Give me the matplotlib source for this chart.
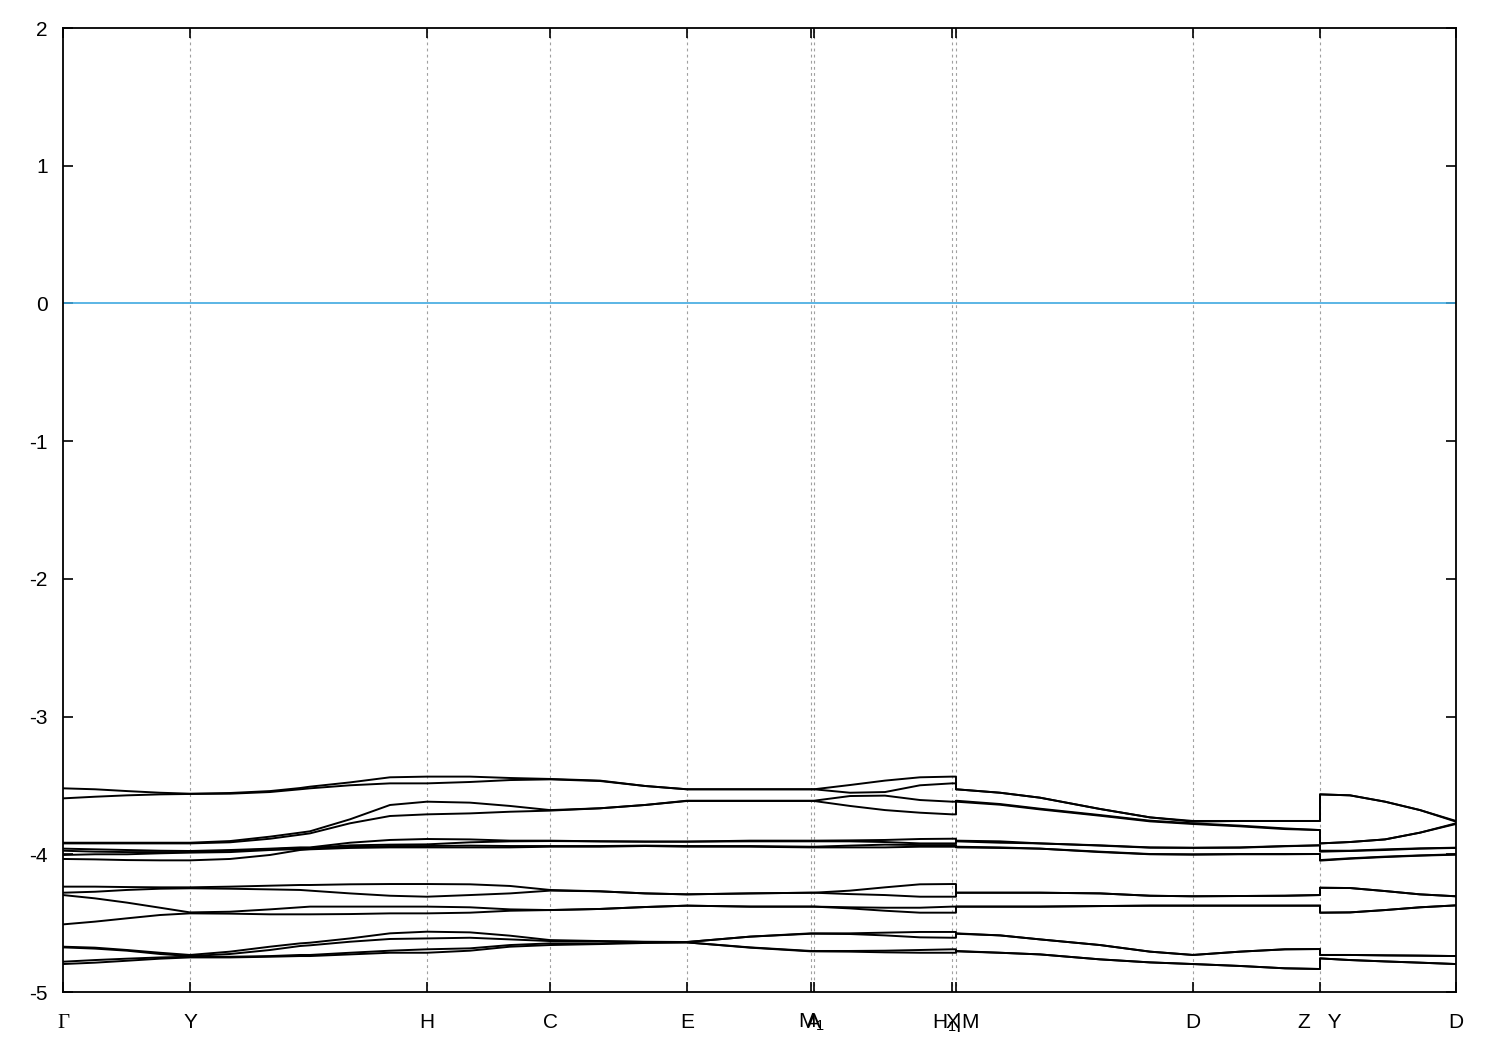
import matplotlib
matplotlib.use('Agg')
import matplotlib.pyplot as plt
from matplotlib.transforms import blended_transform_factory

plt.rcParams['font.family'] = ['Liberation Sans', 'DejaVu Sans']
plt.rcParams['mathtext.fontset'] = 'custom'
plt.rcParams['mathtext.rm'] = 'Liberation Sans'
plt.rcParams['mathtext.it'] = 'Liberation Sans'

# k-path positions (arbitrary path-length units)
k = [0.000, 0.032, 0.064, 0.097, 0.127, 0.167, 0.207, 0.237, 0.247, 0.287,
     0.327, 0.364, 0.407, 0.447, 0.487, 0.537, 0.582, 0.624, 0.687, 0.748,
     0.751, 0.787, 0.822, 0.857, 0.889, 0.893, 0.893, 0.937, 0.977, 1.037,
     1.087, 1.130, 1.177, 1.222, 1.257, 1.257, 1.287, 1.322, 1.357, 1.393]

tick_k = [0.000, 0.127, 0.364, 0.487, 0.624, 0.748, 0.751, 0.889, 0.893, 1.130, 1.257, 1.393]
tick_labels = ['Γ', 'Y', 'H', 'C', 'E', 'M$_1$', 'A', 'X', 'H$_1$|M', 'D', 'Z   Y', 'D']

# band energies (eV), sorted from top to bottom
band_a1 = [-3.521, -3.528, -3.541, -3.553, -3.560, -3.555, -3.541, -3.519, -3.509, -3.478,
           -3.441, -3.436, -3.436, -3.446, -3.453, -3.465, -3.504, -3.528, -3.528, -3.528,
           -3.528, -3.497, -3.465, -3.441, -3.436, -3.436, -3.528, -3.553, -3.589, -3.671,
           -3.732, -3.758, -3.758, -3.758, -3.758, -3.565, -3.572, -3.618, -3.679, -3.758]
band_a2 = [-3.594, -3.582, -3.572, -3.565, -3.562, -3.560, -3.548, -3.528, -3.521, -3.499,
           -3.485, -3.485, -3.475, -3.461, -3.456, -3.468, -3.504, -3.528, -3.528, -3.528,
           -3.528, -3.553, -3.548, -3.499, -3.485, -3.485, -3.528, -3.553, -3.589, -3.671,
           -3.732, -3.763, -3.758, -3.758, -3.758, -3.565, -3.572, -3.618, -3.679, -3.763]
band_a3 = [-3.916, -3.916, -3.916, -3.916, -3.916, -3.904, -3.872, -3.843, -3.833, -3.746,
           -3.642, -3.618, -3.625, -3.649, -3.679, -3.666, -3.642, -3.611, -3.611, -3.611,
           -3.611, -3.577, -3.574, -3.606, -3.618, -3.618, -3.611, -3.635, -3.669, -3.715,
           -3.756, -3.775, -3.792, -3.812, -3.824, -3.921, -3.911, -3.892, -3.843, -3.775]
band_a4 = [-3.921, -3.921, -3.921, -3.921, -3.921, -3.913, -3.887, -3.858, -3.848, -3.775,
           -3.722, -3.710, -3.703, -3.691, -3.683, -3.666, -3.642, -3.613, -3.613, -3.613,
           -3.613, -3.649, -3.679, -3.698, -3.710, -3.710, -3.618, -3.640, -3.674, -3.720,
           -3.761, -3.780, -3.797, -3.817, -3.824, -3.921, -3.911, -3.892, -3.843, -3.780]
band_b1 = [-3.959, -3.964, -3.969, -3.974, -3.976, -3.969, -3.959, -3.950, -3.950, -3.916,
           -3.896, -3.889, -3.892, -3.901, -3.901, -3.906, -3.908, -3.908, -3.901, -3.901,
           -3.901, -3.899, -3.896, -3.889, -3.887, -3.887, -3.901, -3.906, -3.921, -3.935,
           -3.950, -3.952, -3.950, -3.940, -3.935, -3.974, -3.974, -3.964, -3.957, -3.952]
band_b2 = [-3.974, -3.981, -3.984, -3.984, -3.984, -3.974, -3.964, -3.954, -3.954, -3.935,
           -3.930, -3.928, -3.913, -3.906, -3.904, -3.906, -3.908, -3.908, -3.906, -3.906,
           -3.906, -3.906, -3.911, -3.921, -3.921, -3.921, -3.906, -3.916, -3.921, -3.937,
           -3.952, -3.954, -3.952, -3.942, -3.935, -3.981, -3.976, -3.969, -3.959, -3.954]
band_b3 = [-4.005, -4.000, -4.000, -3.993, -3.988, -3.984, -3.969, -3.962, -3.959, -3.945,
           -3.940, -3.940, -3.937, -3.940, -3.940, -3.940, -3.937, -3.940, -3.940, -3.945,
           -3.945, -3.937, -3.930, -3.933, -3.933, -3.933, -3.945, -3.950, -3.959, -3.981,
           -3.998, -4.000, -3.998, -3.998, -3.998, -4.042, -4.029, -4.017, -4.008, -4.000]
band_b4 = [-4.034, -4.037, -4.042, -4.044, -4.044, -4.034, -4.005, -3.969, -3.964, -3.954,
           -3.950, -3.950, -3.950, -3.950, -3.945, -3.945, -3.940, -3.945, -3.945, -3.950,
           -3.950, -3.950, -3.950, -3.945, -3.945, -3.945, -3.950, -3.954, -3.959, -3.984,
           -4.000, -4.003, -4.000, -4.000, -3.998, -4.046, -4.032, -4.020, -4.010, -4.003]
band_c1 = [-4.235, -4.235, -4.238, -4.240, -4.240, -4.235, -4.228, -4.223, -4.223, -4.218,
           -4.216, -4.216, -4.218, -4.230, -4.259, -4.269, -4.284, -4.291, -4.284, -4.279,
           -4.279, -4.264, -4.240, -4.218, -4.216, -4.216, -4.279, -4.279, -4.279, -4.284,
           -4.301, -4.305, -4.303, -4.301, -4.296, -4.243, -4.245, -4.267, -4.291, -4.305]
band_c2 = [-4.279, -4.272, -4.259, -4.250, -4.247, -4.250, -4.255, -4.259, -4.264, -4.284,
           -4.301, -4.308, -4.296, -4.284, -4.264, -4.269, -4.284, -4.291, -4.284, -4.279,
           -4.279, -4.289, -4.296, -4.308, -4.308, -4.308, -4.279, -4.279, -4.279, -4.284,
           -4.301, -4.305, -4.303, -4.301, -4.296, -4.243, -4.245, -4.267, -4.291, -4.305]
band_c3 = [-4.296, -4.320, -4.351, -4.388, -4.422, -4.417, -4.400, -4.385, -4.380, -4.380,
           -4.380, -4.380, -4.385, -4.400, -4.405, -4.397, -4.383, -4.373, -4.380, -4.380,
           -4.380, -4.385, -4.388, -4.388, -4.380, -4.380, -4.380, -4.380, -4.380, -4.376,
           -4.373, -4.373, -4.373, -4.373, -4.373, -4.424, -4.422, -4.405, -4.385, -4.371]
band_c4 = [-4.509, -4.489, -4.465, -4.441, -4.429, -4.431, -4.436, -4.436, -4.436, -4.434,
           -4.429, -4.429, -4.424, -4.410, -4.405, -4.397, -4.383, -4.373, -4.380, -4.380,
           -4.380, -4.393, -4.410, -4.424, -4.424, -4.424, -4.380, -4.380, -4.380, -4.376,
           -4.373, -4.373, -4.373, -4.373, -4.373, -4.424, -4.422, -4.405, -4.385, -4.371]
band_d1 = [-4.671, -4.678, -4.695, -4.715, -4.731, -4.707, -4.671, -4.647, -4.642, -4.611,
           -4.574, -4.562, -4.567, -4.591, -4.623, -4.630, -4.635, -4.637, -4.598, -4.574,
           -4.574, -4.574, -4.569, -4.564, -4.564, -4.564, -4.574, -4.589, -4.618, -4.659,
           -4.707, -4.731, -4.707, -4.690, -4.688, -4.731, -4.731, -4.734, -4.736, -4.739]
band_d2 = [-4.676, -4.685, -4.700, -4.724, -4.739, -4.724, -4.695, -4.666, -4.661, -4.635,
           -4.615, -4.611, -4.606, -4.618, -4.630, -4.632, -4.637, -4.637, -4.598, -4.577,
           -4.577, -4.579, -4.589, -4.603, -4.606, -4.606, -4.577, -4.589, -4.618, -4.659,
           -4.707, -4.731, -4.707, -4.690, -4.688, -4.731, -4.731, -4.734, -4.736, -4.739]
band_d3 = [-4.780, -4.768, -4.758, -4.749, -4.744, -4.744, -4.739, -4.731, -4.731, -4.715,
           -4.700, -4.690, -4.683, -4.659, -4.647, -4.647, -4.640, -4.640, -4.676, -4.702,
           -4.702, -4.702, -4.700, -4.695, -4.690, -4.690, -4.702, -4.715, -4.727, -4.763,
           -4.785, -4.797, -4.811, -4.828, -4.833, -4.756, -4.768, -4.778, -4.787, -4.797]
band_d4 = [-4.797, -4.787, -4.773, -4.758, -4.749, -4.749, -4.744, -4.739, -4.739, -4.727,
           -4.715, -4.715, -4.700, -4.671, -4.659, -4.652, -4.644, -4.640, -4.678, -4.705,
           -4.705, -4.707, -4.712, -4.715, -4.715, -4.715, -4.705, -4.715, -4.727, -4.763,
           -4.785, -4.797, -4.811, -4.828, -4.833, -4.756, -4.768, -4.778, -4.787, -4.797]

bands = [band_a1, band_a2, band_a3, band_a4, band_b1, band_b2, band_b3, band_b4,
         band_c1, band_c2, band_c3, band_c4, band_d1, band_d2, band_d3, band_d4]

y_ticks = [-5, -4, -3, -2, -1, 0, 1, 2]
fermi_level = 0.0

fig = plt.figure(figsize=(15, 10.5), dpi=100)
ax = fig.add_axes([63 / 1500, 58 / 1050, 1393 / 1500, 964 / 1050])

for kt in tick_k[1:-1]:
    ax.axvline(kt, color='#a0a0a0', lw=0.8, linestyle=(0, (2.5, 3)), zorder=1)

ax.axhline(fermi_level, color='#3fa9e0', lw=1.2, zorder=2)

for b in bands:
    ax.plot(k, b, color='black', lw=1.4, zorder=3)

ax.set_xlim(tick_k[0], tick_k[-1])
ax.set_ylim(-5, 2)
ax.set_yticks(y_ticks)
ax.set_yticklabels([str(v) for v in y_ticks])
ax.set_xticks(tick_k)
ax.tick_params(axis='both', direction='in', length=7, width=1.2, top=True, right=True,
               labelsize=15, colors='black')
ax.tick_params(axis='y', pad=11)
ax.tick_params(axis='x', labelbottom=False)

# k-point labels placed on a common baseline below the axis
trans = blended_transform_factory(ax.transData, ax.transAxes)
for kt, lab in zip(tick_k, tick_labels):
    fam = ['Liberation Serif', 'DejaVu Serif'] if lab == 'Γ' else ['Liberation Sans', 'DejaVu Sans']
    ax.text(kt, -0.0373, lab, transform=trans, ha='center', va='baseline',
            fontsize=15, family=fam, color='black')

for sp in ax.spines.values():
    sp.set_linewidth(1.3)
    sp.set_color('black')

fig.savefig('out.png', dpi=100)
